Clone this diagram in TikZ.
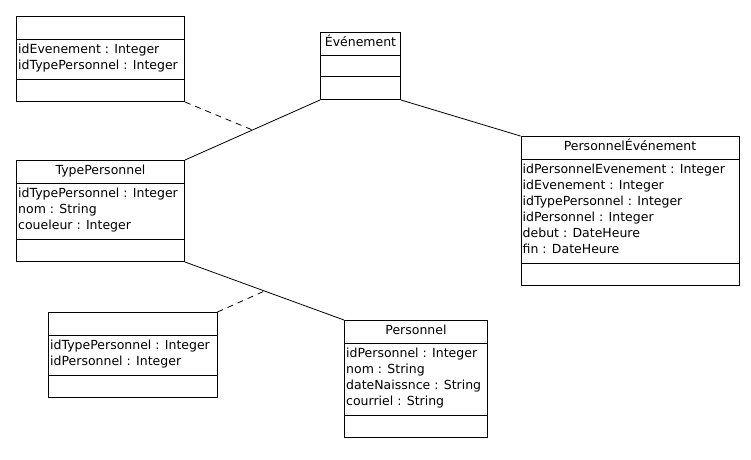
\documentclass[tikz,border=0pt]{standalone}
\usepackage{fontspec}
\setmainfont{DejaVu Sans}
\usepackage{tikz}
\usetikzlibrary{positioning, calc}

\begin{document}
\begin{tikzpicture}[
        x=1pt, y=-1pt,
        umlclass/.style={draw, line width=1pt, rectangle, inner sep=0pt, anchor=north west},
        sepline/.style={line width=1pt},
        title/.style={anchor=base, inner sep=0pt, font=\fontsize{12.5}{16}\selectfont},
        attr/.style={anchor=base west, inner sep=0pt, font=\fontsize{12.5}{16}\selectfont},
        assoc/.style={line width=0.8pt},
        assocdash/.style={line width=0.8pt, dash pattern=on 6pt off 5pt},
    ]
    \useasboundingbox (0,0) rectangle (751,459);
    % EVENEMENT
    \node[umlclass, minimum width=80pt, minimum height=67pt] (evt) at (320,32) {};
    \draw[sepline] (evt.north west) ++(0,23) -- ++(80,0);
    \draw[sepline] (evt.north west) ++(0,44) -- ++(80,0);
    \node[title] (evt-t) at ($(evt.north)+(0,14)$) {Événement};
    % TYPEPERSONNEL
    \node[umlclass, minimum width=168pt, minimum height=101pt] (tp) at (16,160) {};
    \draw[sepline] (tp.north west) ++(0,23) -- ++(168,0);
    \draw[sepline] (tp.north west) ++(0,79) -- ++(168,0);
    \node[title] (tp-t) at ($(tp.north)+(0,14)$) {TypePersonnel};
    \foreach \t [count=\i] in {idTypePersonnel : Integer, nom : String, coueleur : Integer}
        \node[attr] (tp-\i) at ($(tp.north west)+(2,21.5+16*\i)$) {\t};
    % PERSONNELEVENEMENT
    \node[umlclass, minimum width=218pt, minimum height=149pt] (pe) at (520.5,136) {};
    \draw[sepline] (pe.north west) ++(0,23) -- ++(218,0);
    \draw[sepline] (pe.north west) ++(0,127) -- ++(218,0);
    \node[title] (pe-t) at ($(pe.north)+(0,14)$) {PersonnelÉvénement};
    \foreach \t [count=\i] in {idPersonnelEvenement : Integer, idEvenement : Integer, idTypePersonnel : Integer, idPersonnel : Integer, debut : DateHeure, fin : DateHeure}
        \node[attr] (pe-\i) at ($(pe.north west)+(2,21.5+16*\i)$) {\t};
    % PERSONNEL
    \node[umlclass, minimum width=143pt, minimum height=117pt] (pers) at (344,320) {};
    \draw[sepline] (pers.north west) ++(0,23) -- ++(143,0);
    \draw[sepline] (pers.north west) ++(0,95) -- ++(143,0);
    \node[title] (pers-t) at ($(pers.north)+(0,14)$) {Personnel};
    \foreach \t [count=\i] in {idPersonnel : Integer, nom : String, dateNaissnce : String, courriel : String}
        \node[attr] (pers-\i) at ($(pers.north west)+(2,21.5+16*\i)$) {\t};
    % ASSOCIATION CLASSES
    \node[umlclass, minimum width=168pt, minimum height=85pt] (acA) at (16,16) {};
    \draw[sepline] (acA.north west) ++(0,23) -- ++(168,0);
    \draw[sepline] (acA.north west) ++(0,63) -- ++(168,0);
    \foreach \t [count=\i] in {idEvenement : Integer, idTypePersonnel : Integer}
        \node[attr] (acA-\i) at ($(acA.north west)+(2,21.5+16*\i)$) {\t};
    \node[umlclass, minimum width=168.5pt, minimum height=85pt] (acB) at (48,312) {};
    \draw[sepline] (acB.north west) ++(0,23) -- ++(168.5,0);
    \draw[sepline] (acB.north west) ++(0,63) -- ++(168.5,0);
    \foreach \t [count=\i] in {idTypePersonnel : Integer, idPersonnel : Integer}
        \node[attr] (acB-\i) at ($(acB.north west)+(2,21.5+16*\i)$) {\t};
    % ASSOCIATIONS
    \draw[assoc] (evt.south west) -- coordinate[midway] (mA) (tp.north east);
    \draw[assoc] (evt.south east) -- (pe.north west);
    \draw[assoc] (tp.south east) -- coordinate[midway] (mB) (pers.north west);
    \draw[assocdash] (acA.south east) -- (mA);
    \draw[assocdash] (acB.north east) -- (mB);
\end{tikzpicture}
\end{document}
